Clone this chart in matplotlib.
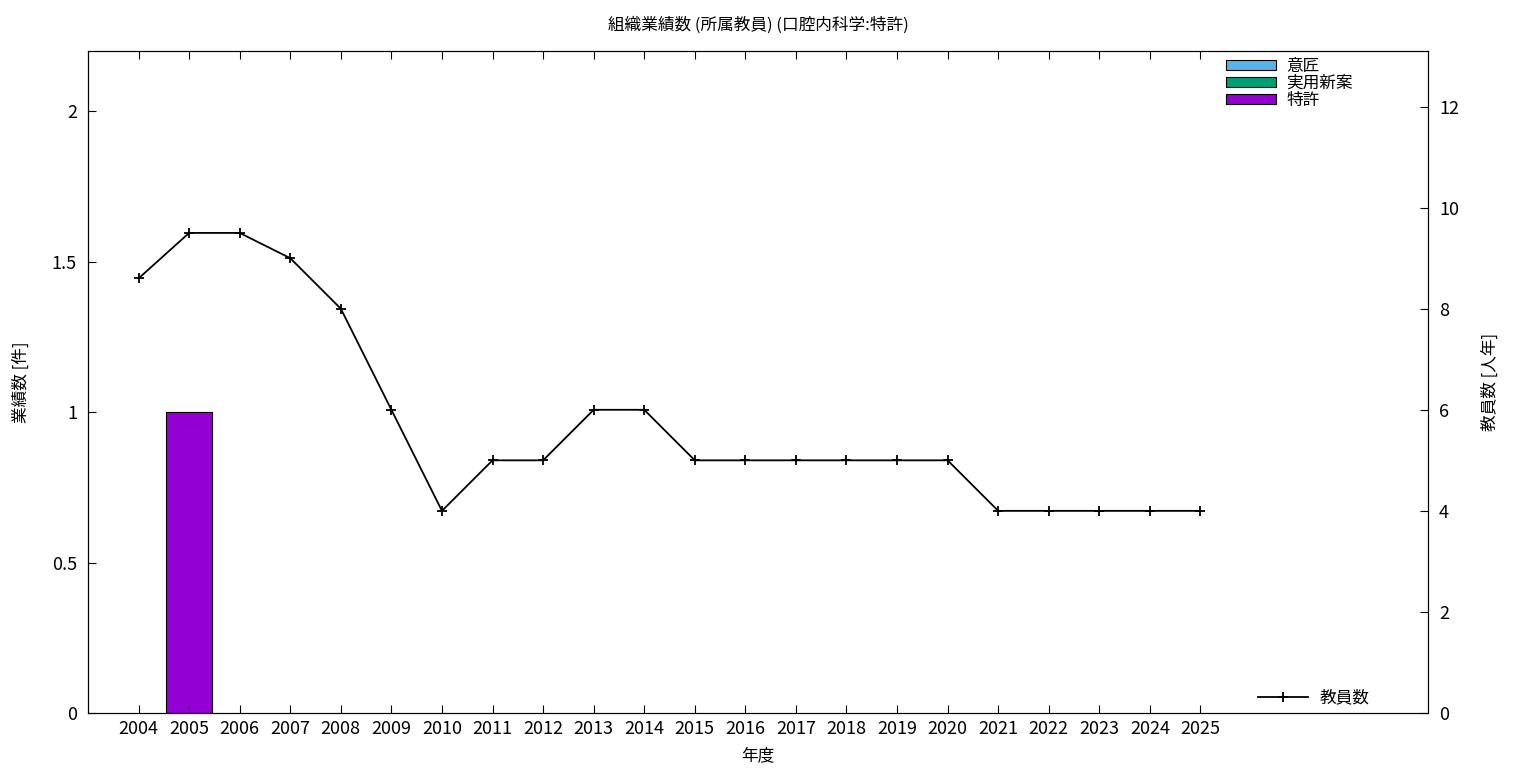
import matplotlib
matplotlib.use("Agg")
import matplotlib.pyplot as plt
from matplotlib.patches import Patch
import numpy as np

plt.rcParams['font.family'] = ['Noto Sans CJK JP', 'DejaVu Sans']

# データ
years = [str(y) for y in range(2004, 2026)]
ishou = [0] * 22          # 意匠
jitsuyou = [0] * 22       # 実用新案
tokkyo = [0, 1] + [0] * 20  # 特許
kyouin = [8.6, 9.5, 9.5, 9.0, 8.0, 6.0, 4, 5, 5, 6, 6,
          5, 5, 5, 5, 5, 5, 4, 4, 4, 4, 4]  # 教員数

colors = {'意匠': '#56b4e9', '実用新案': '#009e73', '特許': '#9400d3'}

x = np.arange(len(years))

fig = plt.figure(figsize=(15.36, 7.68), dpi=100)
ax = fig.add_axes([88 / 1536, 55 / 768, (1428 - 88) / 1536, (713 - 51) / 768])
ax2 = ax.twinx()

w = 0.9
bottom = np.zeros(len(x))
for name, vals in [('意匠', ishou), ('実用新案', jitsuyou), ('特許', tokkyo)]:
    vals = np.array(vals, dtype=float)
    m = vals > 0  # 高さ0の棒は描かない
    ax.bar(x[m], vals[m], w, bottom=bottom[m], color=colors[name],
           edgecolor='black', linewidth=0.8)
    bottom += vals

ln, = ax2.plot(x, kyouin, color='black', linewidth=1.3, marker='+', markersize=7,
               markeredgewidth=1.3, label='教員数')

ax.set_xlim(-1, 25.5)
ax.set_ylim(0, 2.2)
ax2.set_ylim(0, 13.1)

ax.set_xticks(x)
ax.set_xticklabels(years)
ax.set_yticks([0, 0.5, 1, 1.5, 2])
ax.set_yticklabels(['0', '0.5', '1', '1.5', '2'])
ax2.set_yticks(range(0, 13, 2))

ax.tick_params(axis='x', direction='in', top=True, length=6, labelsize=13, pad=5)
ax.tick_params(axis='y', direction='in', length=6, labelsize=13, pad=8)
ax2.tick_params(axis='y', direction='in', length=6, labelsize=13, pad=8)

ax.set_xlabel('年度', fontsize=12, labelpad=7)
ax.set_ylabel('業績数 [件]', fontsize=12, labelpad=16)
ax2.set_ylabel('教員数 [人年]', fontsize=12, labelpad=16)
ax.set_title('組織業績数 (所属教員) (口腔内科学:特許)', fontsize=12, pad=15)

handles = [Patch(facecolor=c, edgecolor='black', linewidth=0.8, label=n)
           for n, c in colors.items()]
ax.legend(handles=handles, loc='upper left', bbox_to_anchor=(0.849, 0.99),
          frameon=False, fontsize=12, handlelength=3.0, handleheight=0.55,
          labelspacing=0.0, borderpad=0, borderaxespad=0, handletextpad=0.65)
ax2.legend(handles=[ln], loc='lower left', bbox_to_anchor=(0.873, 0.01),
           frameon=False, fontsize=12, handlelength=3.0, borderpad=0,
           borderaxespad=0, handletextpad=0.7)

plt.savefig('out.png', dpi=100)
